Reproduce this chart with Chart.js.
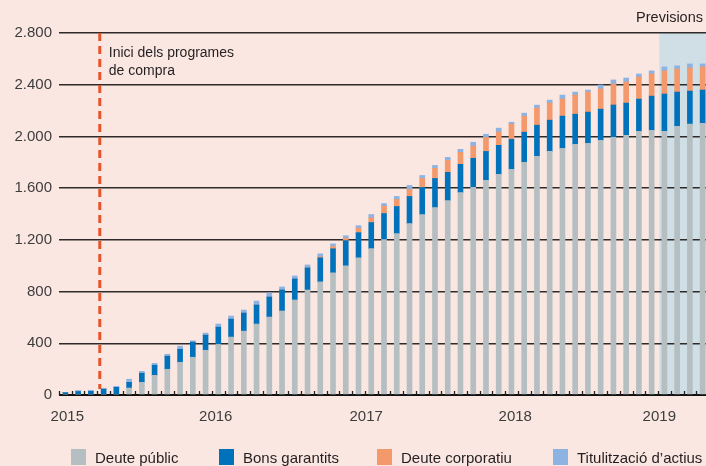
<!DOCTYPE html>
<html>
<head>
<meta charset="utf-8">
<script src="https://cdn.jsdelivr.net/npm/chart.js@4"></script>
<style>
  body { margin: 0; background: #fbe7e1; overflow: hidden; }
  #wrap { position: relative; width: 706px; height: 466px; overflow: hidden; }
  #chart { position: absolute; left: 0; top: 0; }
  #legend { position: absolute; left: 0; top: 449px; width: 706px; height: 16px;
            font-family: 'Liberation Sans', Arial, sans-serif; font-size: 15px; color: #231f20; }
  #legend .item { position: absolute; top: 0; display: flex; align-items: center; white-space: nowrap; height: 16px; }
  #legend .box { width: 15px; height: 16px; margin-right: 9px; flex: none; }
</style>
</head>
<body>
<div id="wrap">
  <canvas id="chart" width="709" height="466"></canvas>
  <div id="legend"></div>
</div>
<script>
// --- Data (monthly, Jan 2015 - Mar 2019), in bn EUR ---
const months = [
  '2015-01','2015-02','2015-03','2015-04','2015-05','2015-06','2015-07','2015-08','2015-09','2015-10','2015-11','2015-12',
  '2016-01','2016-02','2016-03','2016-04','2016-05','2016-06','2016-07','2016-08','2016-09','2016-10','2016-11','2016-12',
  '2017-01','2017-02','2017-03','2017-04','2017-05','2017-06','2017-07','2017-08','2017-09','2017-10','2017-11','2017-12',
  '2018-01','2018-02','2018-03','2018-04','2018-05','2018-06','2018-07','2018-08','2018-09','2018-10','2018-11','2018-12',
  '2019-01','2019-02','2019-03'
];

const deutePublic = [
  0, 0, 0, 0, 0, 54, 98, 152, 199, 253, 292, 346,
  391, 448, 494, 549, 603, 650, 735, 812, 875, 945, 999, 1061,
  1132, 1202, 1248, 1326, 1396, 1450, 1504, 1566, 1606, 1660, 1706, 1745,
  1799, 1846, 1884, 1908, 1939, 1947, 1970, 1993, 2009, 2040, 2048, 2040,
  2079, 2095, 2102
];
const bonsGarantits = [
  18, 27, 28, 45, 59, 44, 70, 78, 101, 101, 117, 117,
  134, 139, 140, 147, 155, 163, 163, 171, 186, 186, 195, 195,
  202, 202, 210, 210, 209, 225, 218, 218, 225, 224, 225, 233,
  234, 241, 242, 249, 233, 241, 241, 250, 249, 249, 264, 288,
  264, 256, 257
];
const deuteCorporatiu = [
  0, 0, 0, 0, 0, 0, 0, 0, 0, 0, 0, 0,
  0, 0, 0, 0, 0, 0, 0, 0, 8, 18, 18, 34,
  36, 56, 54, 54, 70, 78, 93, 93, 93, 108, 104, 117,
  124, 132, 132, 132, 148, 155, 156, 163, 163, 171, 171, 179,
  179, 179, 179
];
const titulitzacio = [
  0, 8, 8, 6, 8, 24, 15, 15, 15, 24, 10, 16,
  24, 24, 23, 31, 31, 23, 23, 23, 23, 20, 20, 20,
  26, 21, 24, 31, 23, 23, 23, 23, 31, 25, 29, 15,
  23, 23, 23, 31, 23, 16, 31, 31, 31, 23, 24, 31,
  24, 31, 23
];

const seriesNames = ['Deute públic', 'Bons garantits', 'Deute corporatiu', 'Titulització d\u2019actius'];
const seriesColors = ['#b5bec1', '#0072bc', '#f4996b', '#8db3e2'];
const legendX = [71, 219, 377, 553];

const yTicks = [0, 400, 800, 1200, 1600, 2000, 2400, 2800];
const yearLabels = ['2015', '2016', '2017', '2018', '2019'];
const yearPos = [0.15, 11.8, 23.6, 35.3, 46.6];   // position on the month axis

const startIdx = 2.7;       // start of purchase programmes (dashed line)
const forecastIdx = 46.6;   // forecasts begin
const startText = ['Inici dels programes', 'de compra'];
const forecastText = 'Previsions';

const FONT = "'Liberation Sans', Arial, sans-serif";

// --- Legend (HTML) ---
const legendEl = document.getElementById('legend');
seriesNames.forEach((name, i) => {
  const item = document.createElement('div');
  item.className = 'item';
  item.style.left = legendX[i] + 'px';
  const box = document.createElement('span');
  box.className = 'box';
  box.style.background = seriesColors[i];
  const txt = document.createElement('span');
  txt.textContent = name;
  item.appendChild(box);
  item.appendChild(txt);
  legendEl.appendChild(item);
});

function fmtThousands(v) {
  if (v < 1000) return String(v);
  return Math.floor(v / 1000) + '.' + String(v % 1000).padStart(3, '0');
}

// --- Extras: forecast band, dashed start line, month ticks, labels ---
const extras = {
  id: 'extras',
  beforeDraw(chart) {
    const { ctx, chartArea } = chart;
    const x = chart.scales.x;
    const x0 = x.getPixelForValue(forecastIdx);
    ctx.save();
    ctx.fillStyle = '#d0dfe6';
    ctx.fillRect(x0, chartArea.top, chartArea.right - x0, chartArea.bottom - chartArea.top);
    ctx.restore();
  },
  afterDatasetsDraw(chart) {
    const { ctx, chartArea } = chart;
    const x = chart.scales.x;

    // month tick marks on the axis
    ctx.save();
    ctx.strokeStyle = '#231f20';
    ctx.lineWidth = 1.3;
    for (let i = 0; i <= months.length; i++) {
      const px = Math.round(x.getPixelForValue(i - 0.5)) + 0.5;
      ctx.beginPath();
      ctx.moveTo(px, chartArea.bottom - 4);
      ctx.lineTo(px, chartArea.bottom);
      ctx.stroke();
    }
    ctx.restore();

    // dashed line
    const dx = x.getPixelForValue(startIdx);
    ctx.save();
    ctx.strokeStyle = '#e8542a';
    ctx.lineWidth = 3;
    ctx.setLineDash([8, 5]);
    ctx.beginPath();
    ctx.moveTo(dx, chartArea.top);
    ctx.lineTo(dx, chartArea.bottom - 6);
    ctx.stroke();
    ctx.restore();

    // texts
    ctx.save();
    ctx.fillStyle = '#231f20';
    ctx.font = '14px ' + FONT;
    ctx.textBaseline = 'middle';
    ctx.textAlign = 'left';
    ctx.fillText(startText[0], dx + 9, 53);
    ctx.fillText(startText[1], dx + 9, 71);
    ctx.font = '14.5px ' + FONT;
    ctx.textAlign = 'right';
    ctx.fillText(forecastText, chartArea.right - 6, 18);
    ctx.restore();
  }
};

const ctx = document.getElementById('chart').getContext('2d');
const seriesData = [deutePublic, bonsGarantits, deuteCorporatiu, titulitzacio];

new Chart(ctx, {
  type: 'bar',
  data: {
    labels: months,
    datasets: seriesData.map((d, i) => ({
      label: seriesNames[i],
      data: d,
      backgroundColor: seriesColors[i],
      barThickness: 5,
      xAxisID: 'x',
      yAxisID: 'y'
    }))
  },
  options: {
    responsive: false,
    animation: false,
    layout: { padding: { top: 33, right: 0, bottom: 35, left: 0 } },
    plugins: {
      legend: { display: false },
      tooltip: { enabled: false }
    },
    scales: {
      x: {
        display: false,
        stacked: true,
        offset: true
      },
      years: {
        type: 'linear',
        axis: 'x',
        position: 'bottom',
        offset: false,
        min: -0.5,
        max: months.length - 0.5,
        grid: { display: false, offset: false },
        border: { display: false },
        afterBuildTicks: (axis) => {
          axis.ticks = yearPos.map(v => ({ value: v }));
        },
        ticks: {
          autoSkip: false,
          maxRotation: 0,
          padding: 5,
          color: '#3d3d3d',
          font: { family: FONT, size: 15 },
          callback: (v, i) => yearLabels[i]
        }
      },
      y: {
        stacked: true,
        min: 0,
        max: 2800,
        afterBuildTicks: (axis) => {
          axis.ticks = yTicks.map(v => ({ value: v }));
        },
        afterFit: (scale) => { scale.width = 59; },
        grid: {
          drawTicks: false,
          color: (c) => c.tick && c.tick.value === 0 ? '#111111' : '#2e2a2a',
          lineWidth: (c) => c.tick && c.tick.value === 0 ? 2 : 1.5
        },
        border: { display: false },
        ticks: {
          padding: 7,
          color: '#3d3d3d',
          font: { family: FONT, size: 15 },
          callback: (v) => fmtThousands(v)
        }
      }
    }
  },
  plugins: [extras]
});
</script>
</body>
</html>
